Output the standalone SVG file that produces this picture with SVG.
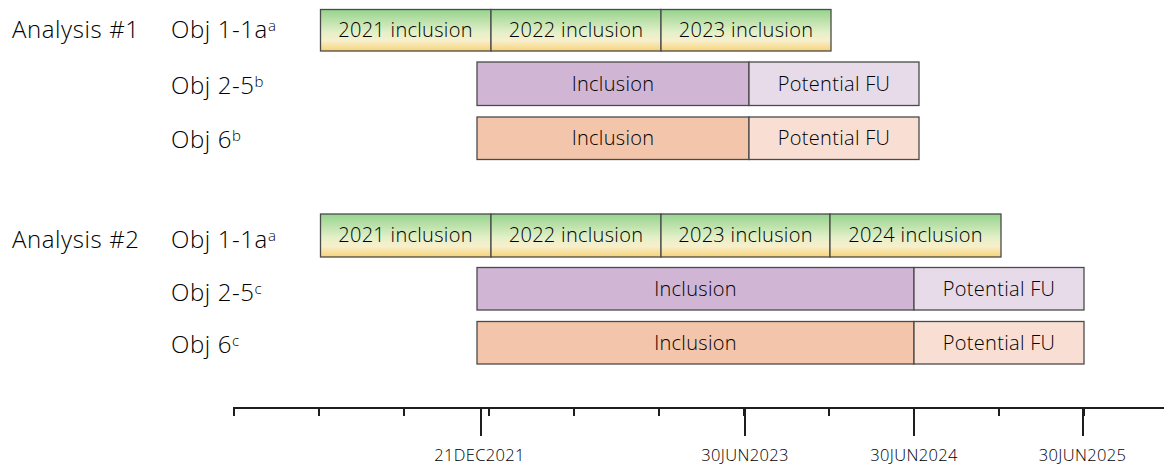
<svg xmlns="http://www.w3.org/2000/svg" width="1164" height="465" viewBox="0 0 1164 465">
<defs>
<linearGradient id="gGreen" x1="0" y1="0" x2="0" y2="1">
<stop offset="0" stop-color="#95d38e"/>
<stop offset="0.55" stop-color="#e4f0c8"/>
<stop offset="0.75" stop-color="#f8efcc"/>
<stop offset="1" stop-color="#f7d377"/>
</linearGradient>
</defs>
<style>
text{font-family:"Open Sans","Noto Sans","Liberation Sans",sans-serif;fill:#000;font-weight:300}
.lbl{font-size:24px;letter-spacing:0.6px}
.sup{font-size:15px;letter-spacing:0}
.bt{font-size:20px;text-anchor:middle;letter-spacing:0.3px}
.ax{font-size:16.5px;text-anchor:middle;letter-spacing:0.35px}
.g{fill:url(#gGreen);stroke:#4a4a4a;stroke-width:1.3}
.p1{fill:#d0b5d5;stroke:#4a4a4a;stroke-width:1.3}
.p2{fill:#e7dbea;stroke:#4a4a4a;stroke-width:1.3}
.o1{fill:#f3c5aa;stroke:#4a4a4a;stroke-width:1.3}
.o2{fill:#f9dfd3;stroke:#4a4a4a;stroke-width:1.3}
.axl{stroke:#1e1e1e;stroke-width:2;fill:none}
</style>

<g id="labels">
<text class="lbl" x="12" y="38">Analysis #1</text>
<text class="lbl" x="171" y="38">Obj 1-1a<tspan class="sup" dy="-7">a</tspan></text>
<text class="lbl" x="171" y="94">Obj 2-5<tspan class="sup" dy="-7">b</tspan></text>
<text class="lbl" x="171" y="148">Obj 6<tspan class="sup" dy="-7">b</tspan></text>
<text class="lbl" x="12" y="248">Analysis #2</text>
<text class="lbl" x="171" y="248">Obj 1-1a<tspan class="sup" dy="-7">a</tspan></text>
<text class="lbl" x="171" y="301">Obj 2-5<tspan class="sup" dy="-7">c</tspan></text>
<text class="lbl" x="171" y="353">Obj 6<tspan class="sup" dy="-7">c</tspan></text>
</g>

<g id="a1-obj1">
<rect class="g" x="320.5" y="9.5" width="170.5" height="41.5"/>
<rect class="g" x="491" y="9.5" width="170" height="41.5"/>
<rect class="g" x="661" y="9.5" width="170" height="41.5"/>
<text class="bt" x="405.5" y="37">2021 inclusion</text>
<text class="bt" x="576" y="37">2022 inclusion</text>
<text class="bt" x="746" y="37">2023 inclusion</text>
</g>
<g id="a1-obj25">
<rect class="p1" x="477" y="62" width="272" height="43.5"/>
<rect class="p2" x="749" y="62" width="170" height="43.5"/>
<text class="bt" x="613" y="91">Inclusion</text>
<text class="bt" x="834" y="91">Potential FU</text>
</g>
<g id="a1-obj6">
<rect class="o1" x="477" y="117" width="272" height="42.5"/>
<rect class="o2" x="749" y="117" width="170" height="42.5"/>
<text class="bt" x="613" y="145">Inclusion</text>
<text class="bt" x="834" y="145">Potential FU</text>
</g>

<g id="a2-obj1">
<rect class="g" x="320.5" y="214" width="170.5" height="43"/>
<rect class="g" x="491" y="214" width="170" height="43"/>
<rect class="g" x="661" y="214" width="169" height="43"/>
<rect class="g" x="830" y="214" width="171" height="43"/>
<text class="bt" x="405.5" y="242">2021 inclusion</text>
<text class="bt" x="576" y="242">2022 inclusion</text>
<text class="bt" x="745.5" y="242">2023 inclusion</text>
<text class="bt" x="915.5" y="242">2024 inclusion</text>
</g>
<g id="a2-obj25">
<rect class="p1" x="477" y="267.5" width="437" height="42.5"/>
<rect class="p2" x="914" y="267.5" width="170" height="42.5"/>
<text class="bt" x="695.5" y="296">Inclusion</text>
<text class="bt" x="999" y="296">Potential FU</text>
</g>
<g id="a2-obj6">
<rect class="o1" x="477" y="321.5" width="437" height="42.5"/>
<rect class="o2" x="914" y="321.5" width="170" height="42.5"/>
<text class="bt" x="695.5" y="350">Inclusion</text>
<text class="bt" x="999" y="350">Potential FU</text>
</g>

<g id="connectors">
<path class="axl" d="M234 408H1164"/>
<path class="axl" d="M234 407V416M319 408V416M404 408V416M489 408V416M574 408V416M659 408V416M744 408V416M829 408V416M914 408V416M999 408V416M1084 408V416"/>
<path class="axl" d="M481 408V436M745 408V436M914 408V436M1083 408V436"/>
</g>

<g id="axis-labels">
<text class="ax" x="479.5" y="460.5">21DEC2021</text>
<text class="ax" x="745" y="460.5">30JUN2023</text>
<text class="ax" x="914" y="460.5">30JUN2024</text>
<text class="ax" x="1082.5" y="460.5">30JUN2025</text>
</g>
</svg>
